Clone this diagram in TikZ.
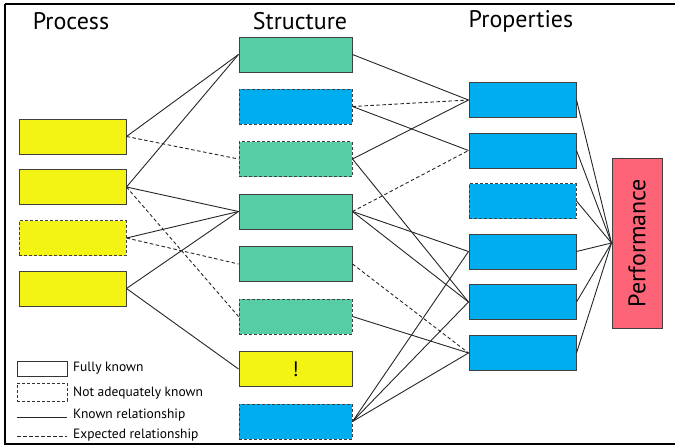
\documentclass[tikz,border=0pt]{standalone}
\usepackage{fontspec}
\setmainfont{PT Sans}
\begin{document}
\begin{tikzpicture}[x=1pt,y=-1pt,
  box/.style={draw=black!75, line width=1pt, rectangle, inner sep=0pt},
  pbox/.style={box, fill=procyel, minimum width=107pt, minimum height=35pt},
  sbox/.style={box, fill=structgreen, minimum width=113pt, minimum height=35pt},
  rbox/.style={box, fill=propblue, minimum width=107pt, minimum height=35pt},
  unk/.style={dash pattern=on 3pt off 2pt},
  known/.style={draw=black!85, line width=0.9pt},
  expected/.style={draw=black!85, line width=0.9pt, dash pattern=on 3.5pt off 2.5pt},
  hdr/.style={font=\fontsize{24}{27}\selectfont, inner sep=0pt},
  leg/.style={font=\fontsize{13.5}{15}\selectfont, anchor=west, inner sep=0pt}]
\definecolor{procyel}{RGB}{243,243,20}
\definecolor{structgreen}{RGB}{87,205,166}
\definecolor{propblue}{RGB}{0,174,239}
\definecolor{perfpink}{RGB}{254,100,120}
\useasboundingbox (0,0) rectangle (675,447);
\draw[line width=2.2pt] (5,4) -- (690,4) (5,4) -- (5,444) -- (690,444);

\node[hdr] (hp) at (71,21) {Process};
\node[hdr] (hs) at (300,21) {Structure};
\node[hdr] (hr) at (521,21) {Properties};

% process
\node[pbox] (p1) at (72.5,136.5) {};
\node[pbox] (p2) at (72.5,187) {};
\node[pbox,unk] (p3) at (72.5,238) {};
\node[pbox] (p4) at (72.5,288.5) {};

% structure
\node[sbox] (s1) at (295.5,54.5) {};
\node[sbox,fill=propblue,unk] (s2) at (295.5,106.5) {};
\node[sbox,unk] (s3) at (295.5,159) {};
\node[sbox] (s4) at (295.5,211.5) {};
\node[sbox] (s5) at (295.5,264) {};
\node[sbox,unk] (s6) at (295.5,316.5) {};
\node[sbox,fill=procyel,font=\fontsize{21}{23}\selectfont] (s7) at (295.5,369) {!};
\node[sbox,fill=propblue,unk] (s8) at (295.5,421.5) {};

% properties
\node[rbox] (r1) at (522.5,100) {};
\node[rbox] (r2) at (522.5,150.5) {};
\node[rbox,unk] (r3) at (522.5,201) {};
\node[rbox] (r4) at (522.5,251.5) {};
\node[rbox] (r5) at (522.5,302) {};
\node[rbox] (r6) at (522.5,353) {};

% performance
\node[box, fill=perfpink, minimum width=50pt, minimum height=170pt] (pf) at (637,243) {};
\node[rotate=90, font=\fontsize{24}{27}\selectfont, inner sep=0pt] (pft) at (pf.center) {Performance};

% process - structure
\draw[known] (p1.east) -- (s1.west);
\draw[expected] (p1.east) -- (s3.west);
\draw[known] (p2.east) -- (s1.west);
\draw[known] (p2.east) -- (s4.west);
\draw[expected] (p2.east) -- (s6.west);
\draw[known] (p3.east) -- (s4.west);
\draw[expected] (p3.east) -- (s5.west);
\draw[known] (p4.east) -- (s4.west);
\draw[known] (p4.east) -- (s7.west);

% structure - properties
\draw[known] (s1.east) -- (r1.west);
\draw[expected] (s2.east) -- (r1.west);
\draw[known] (s2.east) -- (r2.west);
\draw[known] (s3.east) -- (r1.west);
\draw[known] (s3.east) -- (r5.west);
\draw[expected] (s4.east) -- (r2.west);
\draw[known] (s4.east) -- (r4.west);
\draw[known] (s4.east) -- (r5.west);
\draw[expected] (s5.east) -- (r6.west);
\draw[known] (s6.east) -- (r6.west);
\draw[known] (s8.east) -- (r4.west);
\draw[known] (s8.east) -- (r5.west);
\draw[known] (s8.east) -- (r6.west);

% properties - performance
\foreach \r in {r1,r2,r3,r4,r5,r6} \draw[known] (\r.east) -- (pf.west);

% legend
\node[draw=black!80, line width=0.8pt, minimum width=50pt, minimum height=15pt, inner sep=0pt] (lb1) at (42,369) {};
\node[draw=black!80, line width=0.8pt, dash pattern=on 3pt off 2pt, minimum width=50pt, minimum height=18pt, inner sep=0pt] (lb2) at (42,392) {};
\coordinate (ls1) at (17,417);
\coordinate (le1) at (67,417);
\coordinate (ls2) at (17,436);
\coordinate (le2) at (67,436);
\draw[known] (ls1) -- (le1);
\draw[expected] (ls2) -- (le2);
\node[leg] (t1) at (73,368) {Fully known};
\node[leg] (t2) at (73,393) {Not adequately known};
\node[leg] (t3) at (73,415) {Known relationship};
\node[leg] (t4) at (73,435) {Expected relationship};
\end{tikzpicture}
\end{document}
